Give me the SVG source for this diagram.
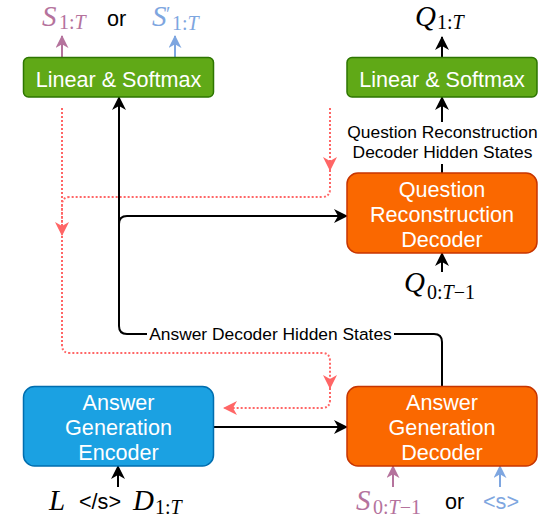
<svg xmlns="http://www.w3.org/2000/svg" width="540" height="532" viewBox="0 0 540 532">
<style>
.box text, .t { font-family: "Liberation Sans", Arial, sans-serif; }
.box text { font-size: 21.6px; fill: #ffffff; text-anchor: middle; }
.green rect { fill: #60A917; stroke: #2D7600; stroke-width: 1.5; }
.orange rect { fill: #FA6800; stroke: #C73500; stroke-width: 1.5; }
.blue rect { fill: #1BA1E2; stroke: #006EAF; stroke-width: 1.5; }
.lbl { font-family: "Liberation Sans", Arial, sans-serif; font-size: 17.4px; fill: #000; text-anchor: middle; }
.t { font-size: 21.6px; }
.m { font-family: "Liberation Serif", "DejaVu Serif", serif; font-size: 29px; }
.i { font-style: italic; }
.s { font-size: 20px; }
.blk { fill: none; stroke: #000; stroke-width: 2; }
.red { fill: none; stroke: #FF6666; stroke-width: 2; stroke-dasharray: 2 2; }
.pink { fill: none; stroke: #B5739D; stroke-width: 2; }
.lblue { fill: none; stroke: #7EA6E0; stroke-width: 2; }
</style>
<defs>
<marker id="aBlk" viewBox="0 0 14 14" refX="13" refY="7" markerWidth="14" markerHeight="14" markerUnits="userSpaceOnUse" orient="auto"><path d="M0,0 L14,7 L0,14 L4,7 z" fill="#000"/></marker>
<marker id="aRed" viewBox="0 0 14 14" refX="13" refY="7" markerWidth="14" markerHeight="14" markerUnits="userSpaceOnUse" orient="auto"><path d="M0,0 L14,7 L0,14 L4,7 z" fill="#FF6666"/></marker>
<marker id="aPink" viewBox="0 0 14 14" refX="13" refY="7" markerWidth="13" markerHeight="13" markerUnits="userSpaceOnUse" orient="auto"><path d="M0,0 L14,7 L0,14 L4,7 z" fill="#B5739D"/></marker>
<marker id="aBlue" viewBox="0 0 14 14" refX="13" refY="7" markerWidth="13" markerHeight="13" markerUnits="userSpaceOnUse" orient="auto"><path d="M0,0 L14,7 L0,14 L4,7 z" fill="#7EA6E0"/></marker>
</defs>

<g id="connectors">
  <!-- red dotted flows -->
  <path class="red" d="M330,108 V170" marker-end="url(#aRed)"/>
  <path class="red" d="M330,170 V189 Q330,197 322,197 H70 Q62,197 62,205 V235" marker-end="url(#aRed)"/>
  <path class="red" d="M62,108 V345 Q62,353 70,353 H322 Q330,353 330,361 V388" marker-end="url(#aRed)"/>
  <path class="red" d="M330,388 V400 Q330,408 322,408 H224" marker-end="url(#aRed)"/>
  <!-- answer decoder hidden states -->
  <path class="blk" d="M442,387 V342 Q442,334 434,334 H394"/>
  <path class="blk" d="M147,334 H127 Q119,334 119,326 V97" marker-end="url(#aBlk)"/>
  <path class="blk" d="M119,224 Q119,216 127,216 H347" marker-end="url(#aBlk)"/>
  <!-- encoder to decoder -->
  <path class="blk" d="M213,427 H347" marker-end="url(#aBlk)"/>
  <!-- QR decoder hidden states -->
  <path class="blk" d="M442,173 V164"/>
  <path class="blk" d="M442,122 V97" marker-end="url(#aBlk)"/>
  <!-- outputs -->
  <path class="blk" d="M442,57 V37" marker-end="url(#aBlk)"/>
  <path class="pink" d="M62,57 V36" marker-end="url(#aPink)"/>
  <path class="lblue" d="M175,57 V36" marker-end="url(#aBlue)"/>
  <!-- inputs -->
  <path class="blk" d="M442,272 V253" marker-end="url(#aBlk)"/>
  <path class="blk" d="M118,487 V466" marker-end="url(#aBlk)"/>
  <path class="pink" d="M393,487 V466" marker-end="url(#aPink)"/>
  <path class="lblue" d="M500,487 V466" marker-end="url(#aBlue)"/>
  <!-- connector labels -->
  <text class="lbl" x="270.5" y="340">Answer Decoder Hidden States</text>
  <text class="lbl" x="442.5" y="137.5">Question Reconstruction</text>
  <text class="lbl" x="442.5" y="157.5">Decoder Hidden States</text>
</g>

<g id="linear-softmax-answer" class="box green">
  <rect x="23.5" y="57.5" width="190" height="39.5" rx="5"/>
  <text x="118.5" y="86.5">Linear &amp; Softmax</text>
</g>
<g id="linear-softmax-question" class="box green">
  <rect x="347" y="57.5" width="190" height="39.5" rx="5"/>
  <text x="442" y="86.5">Linear &amp; Softmax</text>
</g>
<g id="question-reconstruction-decoder" class="box orange">
  <rect x="347" y="173" width="190" height="80" rx="11"/>
  <text x="442" y="196.5">Question</text>
  <text x="442" y="221.5">Reconstruction</text>
  <text x="442" y="246.5">Decoder</text>
</g>
<g id="answer-generation-encoder" class="box blue">
  <rect x="23.5" y="386.5" width="190" height="79.5" rx="11"/>
  <text x="118.5" y="410">Answer</text>
  <text x="118.5" y="435">Generation</text>
  <text x="118.5" y="460">Encoder</text>
</g>
<g id="answer-generation-decoder" class="box orange">
  <rect x="347" y="386.5" width="190" height="79.5" rx="11"/>
  <text x="442" y="410">Answer</text>
  <text x="442" y="435">Generation</text>
  <text x="442" y="460">Decoder</text>
</g>

<g id="outputs-top">
  <text class="m" fill="#B5739D"><tspan class="i" x="42" y="26">S</tspan><tspan class="s" x="59" y="29">1:</tspan><tspan class="s i">T</tspan></text>
  <text class="t" x="107" y="26" fill="#000">or</text>
  <text class="m" fill="#7EA6E0"><tspan class="i" x="152" y="26">S</tspan><tspan class="s" x="166" y="21">′</tspan></text>
  <text class="m" fill="#7EA6E0"><tspan class="s" x="172" y="30">1:</tspan><tspan class="s i">T</tspan></text>
  <text class="m" fill="#000"><tspan class="i" x="415" y="26">Q</tspan><tspan class="s" x="437" y="29">1:</tspan><tspan class="s i">T</tspan></text>
</g>
<g id="inputs">
  <text class="m" fill="#000"><tspan class="i" x="404" y="292">Q</tspan><tspan class="s" x="427" y="299">0:</tspan><tspan class="s i">T</tspan><tspan class="s">−1</tspan></text>
  <text class="m i" x="49" y="510" fill="#000">L</text>
  <text class="t" x="79" y="509" fill="#000">&lt;/s&gt;</text>
  <text class="m" fill="#000"><tspan class="i" x="133" y="510">D</tspan><tspan class="s" x="155" y="514">1:</tspan><tspan class="s i">T</tspan></text>
  <text class="m" fill="#B5739D"><tspan class="i" x="356" y="510">S</tspan><tspan class="s" x="373" y="514">0:</tspan><tspan class="s i">T</tspan><tspan class="s">−1</tspan></text>
  <text class="t" x="445" y="509" fill="#000">or</text>
  <text class="t" x="483" y="509" fill="#7EA6E0">&lt;s&gt;</text>
</g>
</svg>
